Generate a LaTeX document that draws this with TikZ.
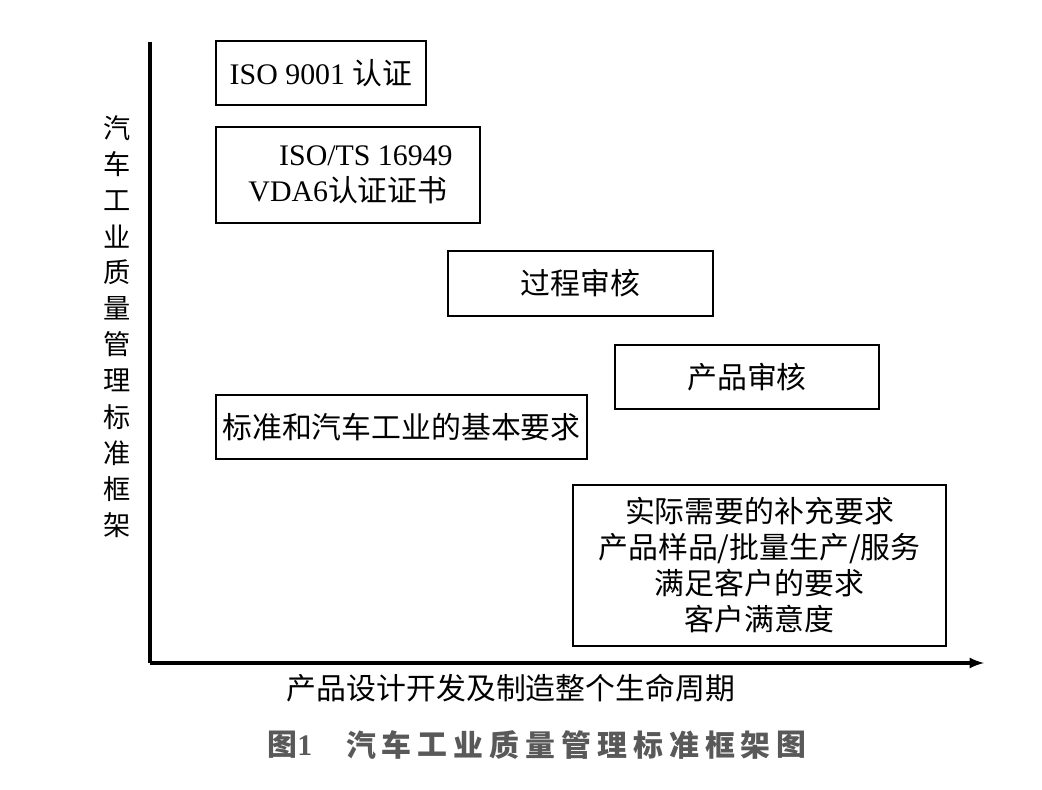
\documentclass[tikz,border=0pt]{standalone}
\usepackage{fontspec}
\setmainfont{Liberation Serif}
\newfontfamily\cjk{Noto Sans CJK SC}
\usepackage{tikz}
\tikzset{
  stdbox/.style={draw, line width=0.9pt, align=center, inner sep=2pt,
    font=\fontsize{17}{20.5}\selectfont},
  axis/.style={line width=1.8pt},
}

\begin{document}
\begin{tikzpicture}[x=0.02cm, y=-0.02cm]
    \useasboundingbox (0,0) rectangle (1042,790);

    % axes
    \coordinate (top) at (150,42);
    \coordinate (orig) at (150,663);
    \coordinate (xend) at (984,663);
    \draw[axis] (top) -- (orig);
    \draw[axis,-latex] (orig) -- (xend);

    % boxes
    \node[stdbox, minimum width=210*0.02cm, minimum height=64*0.02cm] (iso) at (321,73) {ISO 9001 {\cjk 认证}};
    \node[stdbox, minimum width=264*0.02cm, minimum height=96*0.02cm] (ts) at (348,175) {\hspace*{1.2em}ISO/TS 16949\\VDA6{\cjk 认证证书}};
    \node[stdbox, font=\fontsize{17}{20.5}\cjk, minimum width=265*0.02cm, minimum height=65*0.02cm] (proc) at (580.5,283.5) {过程审核};
    \node[stdbox, font=\fontsize{17}{20.5}\cjk, minimum width=264*0.02cm, minimum height=64*0.02cm] (prod) at (747,377) {产品审核};
    \node[stdbox, font=\fontsize{17}{20.5}\cjk, minimum width=371*0.02cm, minimum height=64*0.02cm] (basic) at (401.5,427) {标准和汽车工业的基本要求};
    \node[stdbox, font=\fontsize{17}{20.5}\cjk, minimum width=373*0.02cm, minimum height=161*0.02cm] (extra) at (759.5,565.5)
        {实际需要的补充要求\\产品样品/批量生产/服务\\满足客户的要求\\客户满意度};

    % axis labels
    \foreach \c [count=\i from 0] in {汽,车,工,业,质,量,管,理,标,准,框,架}
        \node[font=\fontsize{15.5}{15.5}\cjk, inner sep=0pt] (ylab\i) at (117,{128+36.1*\i}) {\c};
    \node[font=\fontsize{17}{17}\cjk, inner sep=0pt] (xlab) at (511,688) {产品设计开发及制造整个生命周期};

    % caption
    \node[font=\fontsize{17}{17}\cjk\bfseries, text=black!65, inner sep=0pt] (capnum) at (290,745) {图{\rmfamily\bfseries 1}};
    \foreach \c [count=\i from 0] in {汽,车,工,业,质,量,管,理,标,准,框,架,图}
        \node[font=\fontsize{17}{17}\cjk\bfseries, text=black!65, inner sep=0pt] (cap\i) at ({361+35.9*\i},745) {\c};
\end{tikzpicture}
\end{document}
